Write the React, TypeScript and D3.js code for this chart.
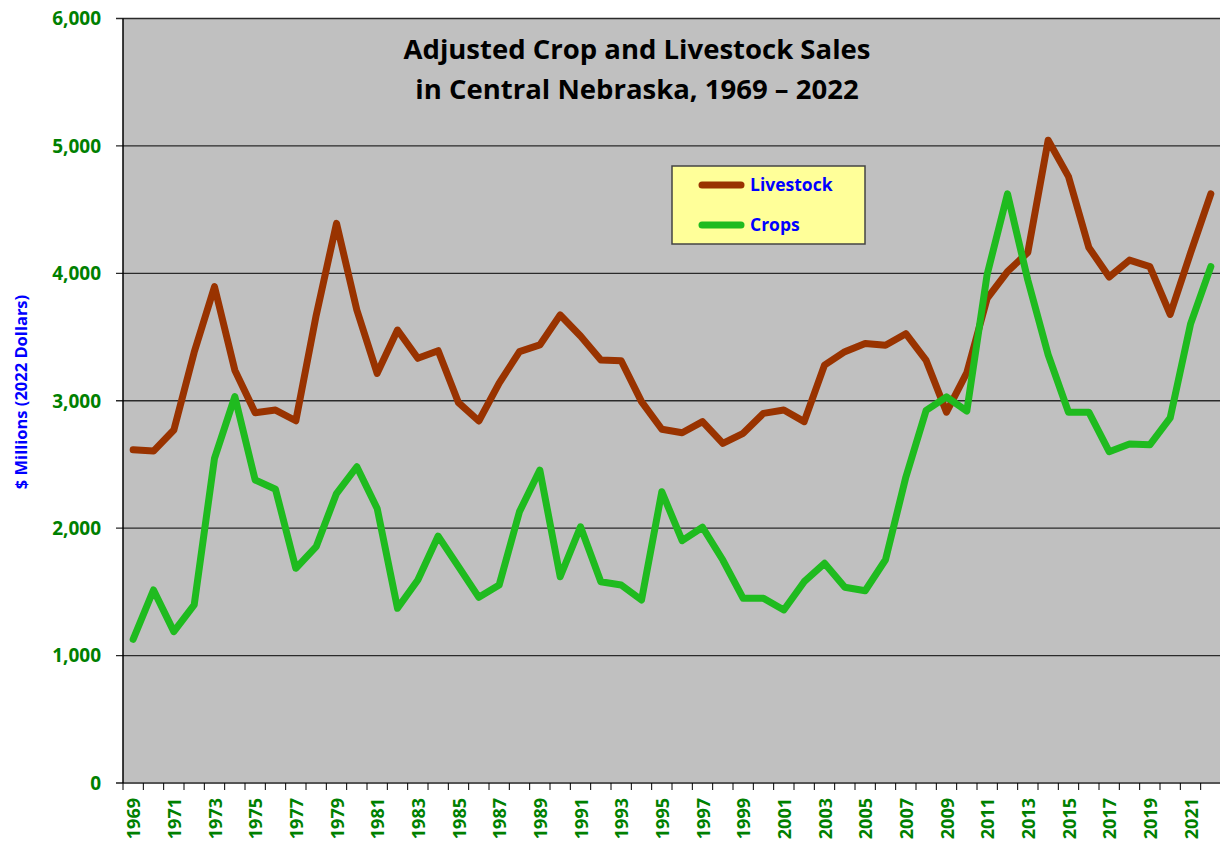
import * as d3 from 'd3';

const years = d3.range(1969, 2023);

const livestock = [
  2615, 2605, 2770, 3380, 3895, 3240, 2906, 2927, 2843, 3670,
  4392, 3712, 3215, 3555, 3333, 3393, 2985, 2841, 3139, 3385,
  3438, 3673, 3508, 3320, 3314, 2993, 2776, 2749, 2836, 2666,
  2744, 2901, 2927, 2836, 3280, 3385, 3450, 3435, 3526, 3316,
  2910, 3220, 3803, 4014, 4164, 5045, 4759, 4203, 3971, 4104,
  4053, 3677, 4158, 4624,
];

const crops = [
  1128, 1515, 1188, 1397, 2548, 3032, 2378, 2305, 1685, 1855,
  2272, 2482, 2155, 1371, 1593, 1938, 1698, 1457, 1554, 2130,
  2456, 1619, 2011, 1580, 1554, 1436, 2286, 1902, 2007, 1750,
  1449, 1449, 1358, 1580, 1724, 1536, 1509, 1752, 2400, 2925,
  3030, 2919, 3992, 4624, 3947, 3361, 2910, 2910, 2600, 2660,
  2654, 2865, 3601, 4053,
];

const yTicks = [0, 1000, 2000, 3000, 4000, 5000, 6000];

const series = [
  { name: 'Livestock', values: livestock, color: '#993300' },
  { name: 'Crops', values: crops, color: '#1fbb1f' },
];

const W = 1220;
const H = 844;
const PLOT = { left: 123, right: 1221, top: 18.5, bottom: 783 };
const FONT = "'Open Sans', 'Noto Sans', sans-serif";

export default function App() {
  const x = d3
    .scaleBand<number>()
    .domain(years)
    .range([PLOT.left, PLOT.right]);
  const y = d3.scaleLinear().domain([0, 6000]).range([PLOT.bottom, PLOT.top]);

  const cx = (yr: number) => (x(yr) as number) + x.bandwidth() / 2;

  const line = d3
    .line<number>()
    .x((_, i) => cx(years[i]))
    .y((v) => y(v));

  // tick positions sit on the band edges
  const bandEdges = years.map((yr) => x(yr) as number).concat([PLOT.right]);

  return (
    <div style={{ position: 'absolute', left: 0, top: 0 }}>
      <svg width={W} height={H} style={{ display: 'block' }}>
        <rect width={W} height={H} fill="#ffffff" />
        <rect
          x={PLOT.left}
          y={PLOT.top}
          width={PLOT.right - PLOT.left}
          height={PLOT.bottom - PLOT.top}
          fill="#c0c0c0"
        />

        {/* gridlines */}
        {yTicks.map((t) => (
          <line
            key={t}
            x1={PLOT.left - 7}
            x2={PLOT.right}
            y1={y(t)}
            y2={y(t)}
            stroke={t === 0 ? '#555' : '#2a2a2a'}
            strokeWidth={t === 0 ? 2 : 1.3}
          />
        ))}

        {/* y axis */}
        <line
          x1={PLOT.left}
          x2={PLOT.left}
          y1={PLOT.top}
          y2={PLOT.bottom}
          stroke="#000"
          strokeWidth={1.5}
        />
        {yTicks.map((t) => (
          <text
            key={t}
            x={101}
            y={y(t)}
            dy="0.36em"
            textAnchor="end"
            fontFamily={FONT}
            fontWeight="bold"
            fontSize={19}
            fill="#008000"
          >
            {d3.format(',')(t)}
          </text>
        ))}
        <text
          transform={`translate(20,392) rotate(-90)`}
          textAnchor="middle"
          dominantBaseline="central"
          fontFamily={FONT}
          fontWeight="bold"
          fontSize={16.5}
          fill="#0000ff"
        >
          $ Millions (2022 Dollars)
        </text>

        {/* x axis ticks + labels */}
        {bandEdges.map((bx, i) => (
          <line
            key={i}
            x1={bx}
            x2={bx}
            y1={PLOT.bottom}
            y2={PLOT.bottom + 7}
            stroke="#000"
            strokeWidth={1}
          />
        ))}
        {years
          .filter((yr) => yr % 2 === 1)
          .map((yr) => (
            <text
              key={yr}
              transform={`translate(${cx(yr)},798) rotate(-90)`}
              textAnchor="end"
              dominantBaseline="central"
              fontFamily={FONT}
              fontWeight="bold"
              fontSize={18}
              fill="#008000"
            >
              {yr}
            </text>
          ))}

        {/* series */}
        {series.map((s) => (
          <path
            key={s.name}
            d={line(s.values) as string}
            fill="none"
            stroke={s.color}
            strokeWidth={7}
            strokeLinejoin="round"
            strokeLinecap="round"
          />
        ))}

        {/* title */}
        <text
          x={637}
          textAnchor="middle"
          fontFamily={FONT}
          fontWeight="bold"
          fontSize={27.5}
          fill="#000"
        >
          <tspan x={637} y={59}>
            Adjusted Crop and Livestock Sales
          </tspan>
          <tspan x={637} y={99}>
            in Central Nebraska, 1969 – 2022
          </tspan>
        </text>

        {/* legend */}
        <g>
          <rect
            x={672}
            y={166}
            width={193}
            height={78}
            fill="#ffff99"
            stroke="#444"
            strokeWidth={1.5}
          />
          {series.map((s, i) => (
            <g key={s.name} transform={`translate(0,${185 + i * 40})`}>
              <line
                x1={702}
                x2={741}
                y1={0}
                y2={0}
                stroke={s.color}
                strokeWidth={7}
                strokeLinecap="round"
              />
              <text
                x={750}
                y={0}
                dy="0.35em"
                fontFamily={FONT}
                fontWeight="bold"
                fontSize={17.5}
                fill="#0000ff"
              >
                {s.name}
              </text>
            </g>
          ))}
        </g>
      </svg>
    </div>
  );
}
